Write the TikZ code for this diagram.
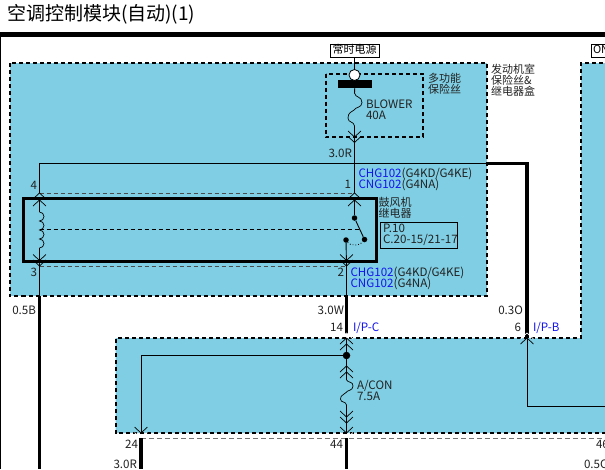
\documentclass[tikz,border=0pt]{standalone}
\usepackage{fontspec}
\setmainfont{Noto Sans CJK SC}
\usetikzlibrary{positioning,calc}
\definecolor{boxblue}{HTML}{7FCEE3}
\definecolor{linkblue}{HTML}{1414F0}
\definecolor{inkgray}{HTML}{222222}
\tikzset{
	lbl/.style={inner sep=0pt,outer sep=0pt,font=\fontsize{11.6}{12}\selectfont,text=inkgray,text height=8.5pt,text depth=2.5pt},
	cjklbl/.style={lbl,font=\fontsize{11}{12}\selectfont},
	tag/.style={lbl,anchor=west},
	num/.style={lbl,anchor=east},
	stack/.style={node distance=0pt},
	wire/.style={line width=0.9pt},
	fat/.style={line width=3.4pt},
	zone/.style={fill=boxblue,draw=black,line width=2pt,dash pattern=on 4pt off 3pt},
	plug/.style={draw=black!70,line width=0.8pt,dash pattern=on 4pt off 3pt},
	chevup/.pic={\draw[line width=0.7pt,pic actions] (-6.5,6) -- (0,0) -- (6.5,6);},
	chevdown/.pic={\draw[line width=0.7pt,pic actions] (-6.5,-6) -- (0,0) -- (6.5,-6);},
}
\newcommand{\linkname}[1]{{\color{linkblue}#1}}
\begin{document}
\begin{tikzpicture}[x=1pt,y=-1pt]
	\useasboundingbox (0,0) rectangle (605,469);
	\clip (0,0) rectangle (605,469);

	% zones
	\fill[white] (0,0) rectangle (605,469);
	\draw[zone] (9.5,63) rectangle (486.5,296);
	\draw[zone] (620,433) -- (115.5,433) -- (115.5,338) -- (581,338) -- (581,63) -- (620,63);

	% title
	\node (TITLE) [lbl,anchor=west,font=\fontsize{19}{20}\selectfont,text=black] at (7,17) {空调控制模块(自动)(1)};
	\coordinate (RULEL) at (0,34.5);
	\coordinate (RULER) at (605,34.5);
	\draw[line width=4.4pt] (RULEL) -- (RULER);
	\draw[line width=1pt] (0.5,36) -- (0.5,469);

	% supply tags
	\node (SUPPLY) [draw,cjklbl,line width=0.8pt,fill=white,minimum width=49pt,minimum height=13pt,text=black] at (354.5,50.5) {常时电源};
	\node (ONTAG)  [draw,cjklbl,line width=0.8pt,fill=white,anchor=west,minimum width=48pt,minimum height=13pt,text=black,text width=44pt] at (591,50.5) {ON};

	% fuse block
	\draw[line width=2pt,dash pattern=on 4pt off 3pt] (325.5,73.5) rectangle (423,137);
	\node (BAR)    [fill=black,minimum width=34pt,minimum height=8pt,inner sep=0pt] at (355,84) {};
	\node (SOURCE) [circle,draw=black,fill=white,line width=0.8pt,minimum size=11pt,inner sep=0pt] at (354.5,75) {};
	\node (MULTIA) [cjklbl,anchor=west] at (428,79) {多功能};
	\node (MULTIB) [stack,cjklbl,below right=0pt and 0pt of MULTIA.south west] {保险丝};
	\node (BAYA)   [cjklbl,anchor=west] at (491,70) {发动机室};
	\node (BAYB)   [stack,cjklbl,below right=0pt and 0pt of BAYA.south west] {保险丝\&};
	\node (BAYC)   [stack,cjklbl,below right=0pt and 0pt of BAYB.south west] {继电器盒};
	\node (BLOWER) [tag] at (366,105) {BLOWER};
	\node (AMPS)   [stack,lbl,below right=0.5pt and 0pt of BLOWER.south west] {40A};

	\coordinate (FTOP) at (354.5,93);
	\coordinate (FEND) at (354.5,126);
	\draw[wire] (SUPPLY) -- (SOURCE);
	\draw[wire] (BAR) -- (FTOP);
	\draw[line width=0.7pt] (FTOP) .. controls (355,98) and (362,96) .. (362,102.5)
		.. controls (362,108) and (355,107) .. (354,110)
		.. controls (352,112) and (348,112) .. (348,118)
		.. controls (348,123) and (354,121) .. (FEND);
	\coordinate (PINA) at (354.5,193);
	\draw[wire] (FEND) -- (PINA);
	\pic at (354.5,137) {chevdown};
	\pic at (354.5,142.5) {chevdown};
	\node (GAUGEA) [num] at (352,154) {3.0R};

	% feed across the top of the relay
	\coordinate (PINB) at (39.5,193);
	\coordinate (TEE)  at (354.5,163.5);
	\coordinate (EDGE) at (487,163.5);
	\coordinate (RISE) at (527,163.5);
	\coordinate (PINF) at (527,338);
	\draw[wire] (PINB) -- (39.5,163.5) -- (TEE) -- (EDGE);
	\draw[fat] (485.5,163.5) -- (RISE) -- (PINF);
	\node (CHGA) [tag] at (358.5,174) {\linkname{CHG102}(G4KD/G4KE)};
	\node (CNGA) [stack,lbl,below right=0pt and 0pt of CHGA.south west] {\linkname{CNG102}(G4NA)};
	\node (NA)   [num] at (351,185) {1};
	\node (NB)   [num] at (37,186) {4};

	% relay
	\draw[plug] (PINB) -- (PINA);
	\draw[line width=3pt] (23.5,198.5) rectangle (376,261);
	\pic at (PINB) {chevup};
	\pic at (39.5,200) {chevup};
	\pic at (PINA) {chevup};
	\pic at (354.5,200) {chevup};
	\coordinate (CTOP) at (39.5,212);
	\coordinate (CEND) at (39.5,248);
	\coordinate (PINC) at (39.5,266);
	\coordinate (PIND) at (346.5,266);
	\draw[wire] (39.5,200) -- (CTOP);
	\draw[line width=0.7pt] (CTOP) arc[start angle=-90,end angle=90,radius=4.5]
		arc[start angle=-90,end angle=90,radius=4.5]
		arc[start angle=-90,end angle=90,radius=4.5]
		arc[start angle=-90,end angle=90,radius=4.5];
	\draw[wire] (CEND) -- (PINC);
	\pic at (39.5,260.5) {chevdown};
	\pic at (PINC) {chevdown};
	\pic at (346.5,260.5) {chevdown};
	\pic at (PIND) {chevdown};
	\draw[plug] (PINC) -- (PIND);
	\draw[line width=0.8pt,dash pattern=on 4pt off 3pt] (39.5,229.5) -- (361,229.5);

	% switch
	\node (DOTA) [circle,fill=black,minimum size=5.5pt,inner sep=0pt] at (354.5,218) {};
	\node (DOTB) [circle,fill=black,minimum size=5.5pt,inner sep=0pt] at (364.5,239.5) {};
	\node (DOTC) [circle,fill=black,minimum size=5.5pt,inner sep=0pt] at (346,240) {};
	\draw[wire] (354.5,200) -- (DOTA);
	\draw[wire] (DOTA) -- (DOTB);
	\draw[line width=0.8pt,dotted] (DOTC) .. controls (350,246) and (360,246) .. (DOTB);
	\draw[wire] (DOTC) -- (PIND);

	\node (RELAYA) [cjklbl,anchor=west] at (378.5,203) {鼓风机};
	\node (RELAYB) [stack,cjklbl,below right=0pt and 0pt of RELAYA.south west] {继电器};
	\node (REFBOX) [draw=black,line width=0.7pt,minimum width=77pt,minimum height=26pt,inner sep=0pt] at (419,235.5) {};
	\node (REFA)   [tag] at (383,229.5) {P.10};
	\node (REFB)   [stack,lbl,below right=0pt and 0pt of REFA.south west] {C.20-15/21-17};

	\node (NC)   [num] at (37,273) {3};
	\node (ND)   [num] at (344,273) {2};
	\node (CHGB) [tag] at (350.5,273) {\linkname{CHG102}(G4KD/G4KE)};
	\node (CNGB) [stack,lbl,below right=0pt and 0pt of CHGB.south west] {\linkname{CNG102}(G4NA)};

	% wires leaving the first zone
	\coordinate (LEFTOUT) at (39.5,296);
	\coordinate (LEFTEND) at (39.5,469);
	\coordinate (PINE) at (346.5,338);
	\draw[wire] (PINC) -- (LEFTOUT);
	\draw[fat] (LEFTOUT) -- (LEFTEND);
	\draw[wire] (PIND) -- (346.5,296);
	\draw[fat] (346.5,296) -- (346.5,334);
	\node (GAUGEB) [num] at (36,311) {0.5B};
	\node (GAUGEC) [num] at (344,311) {3.0W};
	\node (GAUGED) [num] at (523,311) {0.3O};
	\node (NE)  [num] at (343,328) {14};
	\node (IPC) [tag,text=linkblue] at (353,328) {I/P-C};
	\node (NF)  [num] at (521,328) {6};
	\node (IPB) [tag,text=linkblue] at (533,328) {I/P-B};

	% second zone
	\pic[draw=white] at (346.5,333) {chevup};
	\pic at (PINE) {chevup};
	\pic at (346.5,344) {chevup};
	\pic[draw=white] at (527,333) {chevup};
	\pic at (PINF) {chevup};
	\node (DOTD) [circle,fill=black,minimum size=7.5pt,inner sep=0pt] at (346.5,355.5) {};
	\coordinate (OUTL) at (141,433);
	\coordinate (OUTM) at (346.5,433);
	\coordinate (OUTR) at (605,406);
	\draw[wire] (PINE) -- (DOTD);
	\draw[wire] (DOTD) -- (141,355.5) -- (OUTL);
	\draw[wire] (PINF) -- (527,406) -- (OUTR);
	\draw[wire] (DOTD) -- (346.5,380);
	\pic at (346.5,366) {chevup};
	\pic at (346.5,372) {chevup};
	\coordinate (GTOP) at (346.5,380);
	\coordinate (GEND) at (346.5,405);
	\draw[line width=0.7pt] (GTOP) .. controls (348,383) and (353,381) .. (353,386)
		.. controls (353,391) and (347,390) .. (346,392.5)
		.. controls (344,395) and (340.5,395) .. (340.5,399)
		.. controls (340.5,403) and (346,401) .. (GEND);
	\draw[wire] (GEND) -- (OUTM);
	\pic at (346.5,417) {chevdown};
	\pic at (346.5,423) {chevdown};
	\pic at (OUTM) {chevdown};
	\pic[draw=white] at (346.5,438.5) {chevdown};
	\pic at (OUTL) {chevdown};
	\pic[draw=white] at (141,438.5) {chevdown};
	\node (FUSEA) [tag] at (357,386) {A/CON};
	\node (FUSEB) [stack,lbl,below right=0.5pt and 0pt of FUSEA.south west] {7.5A};

	% bottom plug
	\draw[line width=0.8pt,draw=black!55,dash pattern=on 5pt off 3pt] (141,438.5) -- (605,438.5);
	\draw[fat] (141,438) -- (141,469);
	\draw[fat] (346.5,438) -- (346.5,469);
	\node (NG) [num] at (138,445) {24};
	\node (NH) [num] at (343,445) {44};
	\node (NI) [tag] at (596,445) {46};
	\node (GAUGEE) [num] at (137,465) {3.0R};
	\node (GAUGEF) [tag] at (584,465) {0.5C};
\end{tikzpicture}
\end{document}
